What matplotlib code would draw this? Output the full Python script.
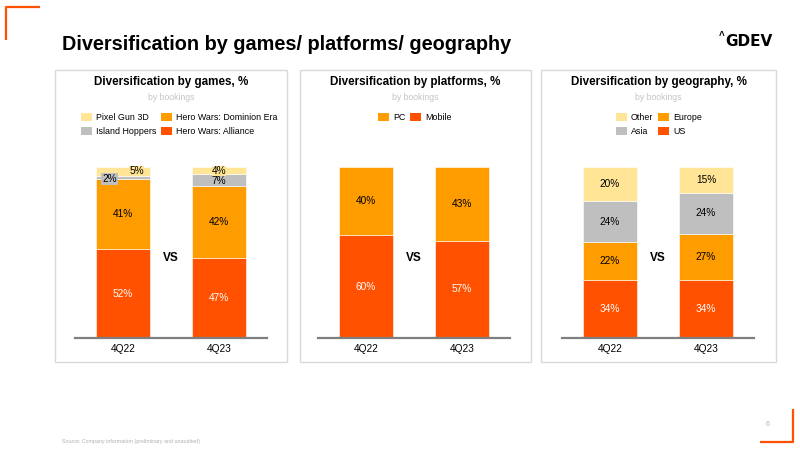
import matplotlib
matplotlib.use("Agg")

import matplotlib.pyplot as plt
from matplotlib.lines import Line2D
from matplotlib.patches import Rectangle, Patch

plt.rcParams["font.family"] = ["Liberation Sans", "DejaVu Sans"]

# ── Data ─────────────────────────────────────────────────────────────────────
PERIODS = ["4Q22", "4Q23"]

GAMES_ALLIANCE = [52, 47]
GAMES_DOMINION = [41, 42]
GAMES_ISLAND = [2, 7]
GAMES_PIXEL = [5, 4]

PLAT_MOBILE = [60, 57]
PLAT_PC = [40, 43]

GEO_US = [34, 34]
GEO_EUROPE = [22, 27]
GEO_ASIA = [24, 24]
GEO_OTHER = [20, 15]

# ── Design tokens ────────────────────────────────────────────────────────────
C_RED = "#FF5100"
C_ORANGE = "#FF9D00"
C_GRAY = "#BFBFBF"
C_YELLOW = "#FFE595"
C_BORDER = "#D9D9D9"
C_AXIS = "#7F7F7F"
C_LIGHT = "#C4C4C4"

W, H = 800, 450


def fx(x):
    return x / W


def fy(y):
    return 1 - y / H


fig = plt.figure(figsize=(8, 4.5), dpi=100, facecolor="white")

# ── Page chrome ──────────────────────────────────────────────────────────────
fig.text(fx(62), fy(44), "Diversification by games/ platforms/ geography",
         fontsize=14.3, fontweight="bold", color="black", va="center", ha="left")
fig.text(fx(773), fy(41), "GDEV", fontsize=11, fontweight="bold", ha="right",
         va="center", family=["DejaVu Sans"])
fig.text(fx(722), fy(36), "^", fontsize=7, fontweight="bold", ha="center",
         va="center")

orange_line = dict(color=C_RED, linewidth=1.6, solid_capstyle="butt")
fig.add_artist(Line2D([fx(6), fx(6), fx(40)], [fy(40), fy(7), fy(7)],
                      transform=fig.transFigure, **orange_line))
fig.add_artist(Line2D([fx(760), fx(793), fx(793)], [fy(442), fy(442), fy(409)],
                      transform=fig.transFigure, **orange_line))

fig.text(fx(62), fy(442), "Source: Company information (preliminary and unaudited)",
         fontsize=3.8, color="#B0B0B0", va="center")
fig.text(fx(766), fy(424), "6", fontsize=5, color="#B0B0B0", va="center")

# Panel frames
PANELS = [(55, 287), (300, 531), (541, 776)]
for x0, x1 in PANELS:
    fig.add_artist(Rectangle((fx(x0), fy(362)), fx(x1 - x0), (362 - 70) / H,
                             transform=fig.transFigure, fill=False,
                             edgecolor=C_BORDER, linewidth=1.0))

# ── Chart helpers ────────────────────────────────────────────────────────────
AX_LEFTS = [75, 318, 562]
AX_WIDTH = 192
BASE_Y, TOP_Y = 338, 167


def make_axes(left):
    ax = fig.add_axes([fx(left), fy(BASE_Y), AX_WIDTH / W, (BASE_Y - TOP_Y) / H])
    ax.set_xlim(-0.5, 1.5)
    ax.set_ylim(0, 100)
    ax.spines[["top", "right", "left"]].set_visible(False)
    ax.spines["bottom"].set_color(C_AXIS)
    ax.spines["bottom"].set_linewidth(1.6)
    ax.set_yticks([])
    ax.set_xticks(range(len(PERIODS)))
    ax.set_xticklabels(PERIODS, fontsize=7.3)
    ax.tick_params(axis="x", length=0, pad=4)
    ax.set_facecolor("none")
    ax.text(0.5, 47, "VS", ha="center", va="center", fontsize=8.5,
            fontweight="bold")
    return ax


def stack(ax, series, colors):
    x = list(range(len(PERIODS)))
    bottom = [0] * len(PERIODS)
    mids = []
    for vals, col in zip(series, colors):
        ax.bar(x, vals, bottom=bottom, width=0.56, color=col,
               edgecolor="white", linewidth=0.4)
        mids.append([b + v / 2 for b, v in zip(bottom, vals)])
        bottom = [b + v for b, v in zip(bottom, vals)]
    return mids


def header(panel, title):
    cx = (panel[0] + panel[1]) / 2
    fig.text(fx(cx), fy(82), title, ha="center", va="center", fontsize=8.4,
             fontweight="bold")
    fig.text(fx(cx), fy(97), "by bookings", ha="center", va="center",
             fontsize=6.2, color=C_LIGHT)


def legend(ax, labels, colors, x_left, ncol):
    handles = [Patch(facecolor=c, edgecolor="none") for c in colors]
    ax.legend(handles, labels, ncol=ncol, loc="upper left",
              bbox_to_anchor=(fx(x_left), fy(113)),
              bbox_transform=fig.transFigure, frameon=False, fontsize=6.4,
              handlelength=1.25, handleheight=1.0, handletextpad=0.45,
              columnspacing=0.55, labelspacing=0.55, borderpad=0,
              borderaxespad=0)


LBL = dict(ha="center", va="center", fontsize=7.3)

# ── Games ────────────────────────────────────────────────────────────────────
ax1 = make_axes(AX_LEFTS[0])
header(PANELS[0], "Diversification by games, %")
m = stack(ax1, [GAMES_ALLIANCE, GAMES_DOMINION, GAMES_ISLAND, GAMES_PIXEL],
          [C_RED, C_ORANGE, C_GRAY, C_YELLOW])
for i in range(len(PERIODS)):
    ax1.text(i, m[0][i], f"{GAMES_ALLIANCE[i]}%", color="white", **LBL)
    ax1.text(i, m[1][i], f"{GAMES_DOMINION[i]}%", **LBL)
# small segments: labels boxed in the segment colour
ax1.text(0 - 0.14, m[2][0] - 1.0, f"{GAMES_ISLAND[0]}%",
         bbox=dict(boxstyle="square,pad=0.08", facecolor=C_GRAY, edgecolor="none"),
         **LBL)
ax1.text(0 + 0.14, m[3][0] + 0.3, f"{GAMES_PIXEL[0]}%",
         bbox=dict(boxstyle="square,pad=0.02", facecolor=C_YELLOW, edgecolor="none"),
         **LBL)
ax1.text(1, m[2][1] - 0.9, f"{GAMES_ISLAND[1]}%", **LBL)
ax1.text(1, m[3][1] - 0.3, f"{GAMES_PIXEL[1]}%",
         bbox=dict(boxstyle="square,pad=0.0", facecolor=C_YELLOW, edgecolor="none"),
         **LBL)
legend(ax1, ["Pixel Gun 3D", "Island Hoppers", "Hero Wars: Dominion Era",
             "Hero Wars: Alliance"],
       [C_YELLOW, C_GRAY, C_ORANGE, C_RED], 81, 2)

# ── Platforms ────────────────────────────────────────────────────────────────
ax2 = make_axes(AX_LEFTS[1])
header(PANELS[1], "Diversification by platforms, %")
m = stack(ax2, [PLAT_MOBILE, PLAT_PC], [C_RED, C_ORANGE])
for i in range(len(PERIODS)):
    ax2.text(i, m[0][i], f"{PLAT_MOBILE[i]}%", color="white", **LBL)
    ax2.text(i, m[1][i], f"{PLAT_PC[i]}%", **LBL)
legend(ax2, ["PC", "Mobile"], [C_ORANGE, C_RED], 378, 2)

# ── Geography ────────────────────────────────────────────────────────────────
ax3 = make_axes(AX_LEFTS[2])
header(PANELS[2], "Diversification by geography, %")
geo = [GEO_US, GEO_EUROPE, GEO_ASIA, GEO_OTHER]
m = stack(ax3, geo, [C_RED, C_ORANGE, C_GRAY, C_YELLOW])
for s, vals in enumerate(geo):
    for i in range(len(PERIODS)):
        ax3.text(i, m[s][i], f"{vals[i]}%",
                 color="white" if s == 0 else "black", **LBL)
legend(ax3, ["Other", "Asia", "Europe", "US"],
       [C_YELLOW, C_GRAY, C_ORANGE, C_RED], 616, 2)

fig.savefig("out.png", dpi=100, facecolor="white")
